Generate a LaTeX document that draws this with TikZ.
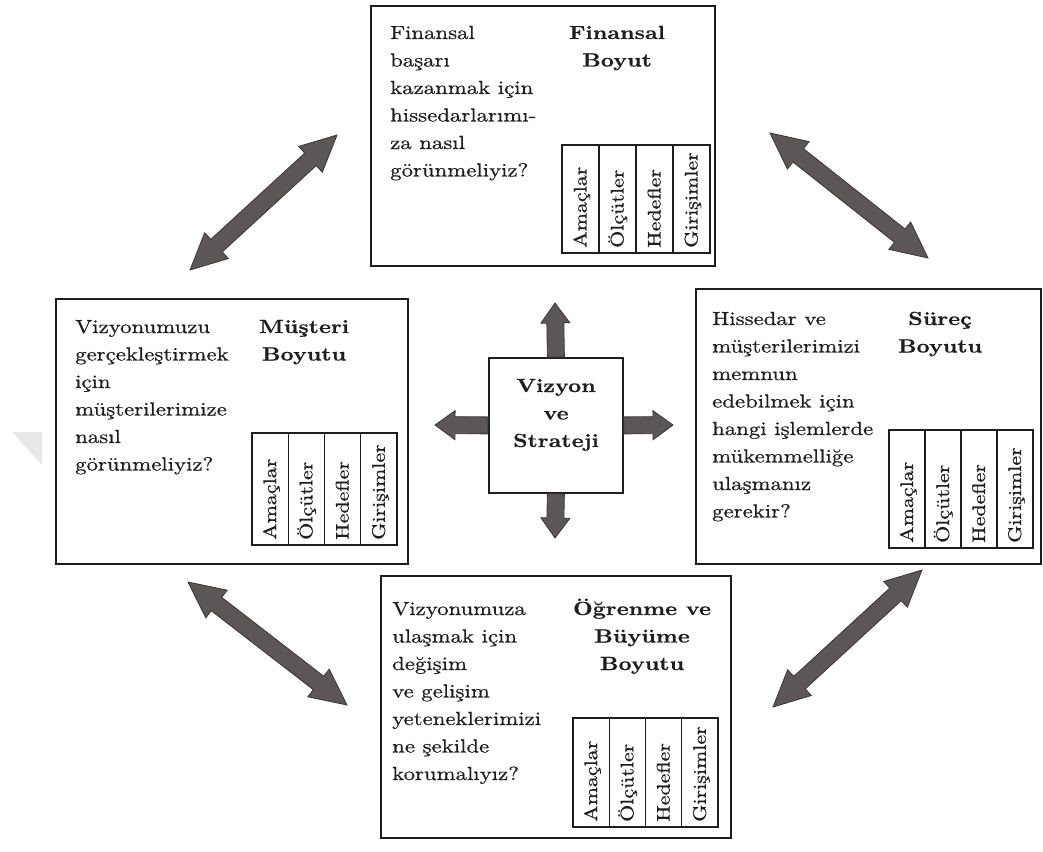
\documentclass[tikz,border=0pt]{standalone}
\usepackage{fontspec}
\setmainfont{lmroman10-regular.otf}[BoldFont=lmroman10-bold.otf, FakeStretch=1.2, UprightFeatures={FakeBold=0.6}, BoldFeatures={FakeBold=0.4}]
\usetikzlibrary{calc}
\definecolor{arrowfill}{RGB}{92,86,86}
\definecolor{arrowedge}{RGB}{58,54,54}
\definecolor{ink}{RGB}{30,30,30}
\definecolor{wmark}{RGB}{232,232,232}
\newcommand\satirl[1]{\begin{tabular}[t]{@{}l@{}}#1\end{tabular}}
\newcommand\satirc[1]{\begin{tabular}[t]{@{}c@{}}#1\end{tabular}}
% double-headed fat arrow between two named coordinates
\newcommand\ciftok[2]{%
  \filldraw[fatarrow] let \p1=(#1), \p2=(#2),
    \n1={atan2(\y2-\y1,\x2-\x1)}, \n2={veclen(\x2-\x1,\y2-\y1)} in
    [shift={(\p1)}, rotate=\n1]
    (0,0) -- (36,17.5) -- (36,8.5) -- ({\n2-36},8.5) -- ({\n2-36},17.5) -- (\n2,0)
    -- ({\n2-36},-17.5) -- ({\n2-36},-8.5) -- (36,-8.5) -- (36,-17.5) -- cycle;}
% single-headed fat arrow from a node border to a named coordinate
\newcommand\tekok[2]{%
  \filldraw[fatarrow] let \p1=(#1), \p2=(#2),
    \n1={atan2(\y2-\y1,\x2-\x1)}, \n2={veclen(\x2-\x1,\y2-\y1)} in
    [shift={(\p1)}, rotate=\n1]
    (0,8.5) -- ({\n2-20},8.5) -- ({\n2-20},14.5) -- (\n2,0)
    -- ({\n2-20},-14.5) -- ({\n2-20},-8.5) -- (0,-8.5) -- cycle;}
% table of four rotated columns: name, x0, y0, x1, y1
\newcommand\tablo[5]{%
  \pgfmathsetmacro\tw{(#4-#2)/4}
  \draw[cell] (#2,#3) rectangle (#4,#5);
  \foreach \k in {1,2,3}{\draw[cell] ({#2+\k*\tw},#3) -- ({#2+\k*\tw},#5);}
  \foreach \lab [count=\k from 0] in {Amaçlar,Ölçütler,Hedefler,Girişimler}{
    \node[col] (#1-\k) at ({#2+(\k+0.5)*\tw+6},{#5-5}) {\lab};}}
\begin{document}
\begin{tikzpicture}[x=1pt,y=-1pt,
  box/.style={draw=ink, line width=1.8pt, inner sep=0pt, anchor=north west},
  cell/.style={draw=ink, line width=1.3pt},
  body/.style={inner sep=0pt, anchor=base west, text=ink, font=\fontsize{19}{27.5}\selectfont},
  title/.style={inner sep=0pt, anchor=base, text=ink, font=\bfseries\fontsize{19}{27.5}\selectfont},
  col/.style={inner sep=0pt, anchor=base west, rotate=90, text=ink, font=\fontsize{18.3}{20}\selectfont},
  fatarrow/.style={fill=arrowfill, draw=arrowedge, line width=0.8pt, line join=miter}]
\useasboundingbox (0,0) rectangle (1043,851);
\fill[white] (0,0) rectangle (1043,851);
\fill[wmark] (12,432) -- (42,432) -- (42,465) -- cycle;

% boxes
\node[box, minimum width=344pt, minimum height=260pt] (fin) at (370,5) {};
\node[box, minimum width=352pt, minimum height=265pt] (mus) at (55,298) {};
\node[box, minimum width=345pt, minimum height=275pt] (sur) at (695,288) {};
\node[box, minimum width=350pt, minimum height=262pt] (ogr) at (380,575) {};
\node[box, minimum width=134pt, minimum height=135pt] (viz) at (488,357) {};

% texts
\node[body] (fin-q) at (390,39) {\satirl{Finansal\\başarı\\kazanmak için\\hissedarlarımı-\\za nasıl\\görünmeliyiz?}};
\node[title] (fin-t) at (617,39) {\satirc{Finansal\\Boyut}};
\node[body] (mus-q) at (75,333) {\satirl{Vizyonumuzu\\gerçekleştirmek\\için\\müşterilerimize\\nasıl\\görünmeliyiz?}};
\node[title] (mus-t) at (304,333) {\satirc{Müşteri\\Boyutu}};
\node[body] (sur-q) at (712,325) {\satirl{Hissedar ve\\müşterilerimizi\\memnun\\edebilmek için\\hangi işlemlerde\\mükemmelliğe\\ulaşmanız\\gerekir?}};
\node[title] (sur-t) at (940,325) {\satirc{Süreç\\Boyutu}};
\node[body] (ogr-q) at (392,615) {\satirl{Vizyonumuza\\ulaşmak için\\değişim\\ve gelişim\\yeteneklerimizi\\ne şekilde\\korumalıyız?}};
\node[title] (ogr-t) at (642,615) {\satirc{Öğrenme ve\\Büyüme\\Boyutu}};
\node[title] (viz-t) at (556,392) {\satirc{Vizyon\\ve\\Strateji}};

% tables
\tablo{fintab}{562}{145}{710}{253}
\tablo{mustab}{252}{433}{397}{545}
\tablo{surtab}{889}{430}{1033}{548}
\tablo{ogrtab}{573}{718}{718}{827}

% central arrows
\coordinate (upT) at (555,303);
\coordinate (dnT) at (555,538);
\coordinate (lfT) at (435,425);
\coordinate (rtT) at (673,425);
\tekok{viz.north}{upT}
\tekok{viz.south}{dnT}
\tekok{viz.west}{lfT}
\tekok{viz.east}{rtT}

% diagonal arrows
\coordinate (tlA) at (190,270); \coordinate (tlB) at (337,135);
\coordinate (trA) at (770,133); \coordinate (trB) at (928,258);
\coordinate (blA) at (188,582); \coordinate (blB) at (347,705);
\coordinate (brA) at (922,570); \coordinate (brB) at (773,707);
\ciftok{tlA}{tlB}
\ciftok{trA}{trB}
\ciftok{blA}{blB}
\ciftok{brA}{brB}
\end{tikzpicture}
\end{document}
